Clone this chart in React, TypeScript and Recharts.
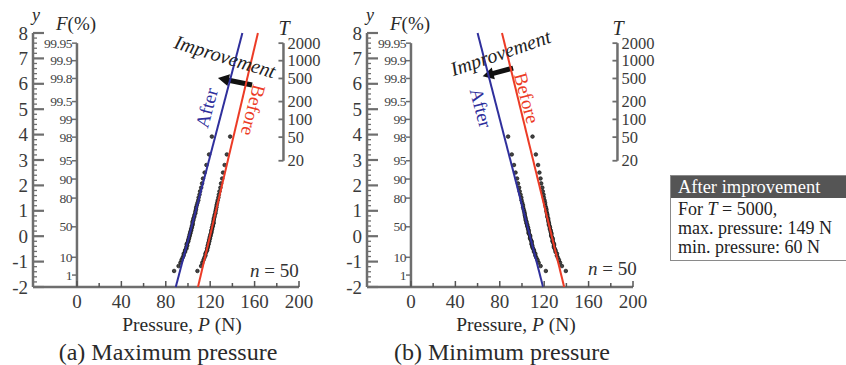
import React from "react"
import { ScatterChart, Scatter, XAxis, YAxis, ReferenceLine, ReferenceDot } from "recharts"

// reduced variate y of the 50 plotted ranks (Gumbel paper)
const plotY = [
  -1.369, -1.175, -1.041, -0.934, -0.843, -0.761, -0.686, -0.616, -0.551, -0.488,
  -0.428, -0.369, -0.313, -0.257, -0.202, -0.148, -0.094, -0.041, 0.013, 0.066,
  0.12, 0.173, 0.228, 0.283, 0.338, 0.395, 0.452, 0.511, 0.572, 0.634,
  0.698, 0.763, 0.832, 0.903, 0.977, 1.055, 1.137, 1.224, 1.316, 1.415,
  1.522, 1.639, 1.768, 1.913, 2.078, 2.271, 2.505, 2.803, 3.219, 3.922,
]

// pressures (N)
const maxAfterP = [
  87.5, 91.5, 93.2, 94.2, 95.2, 96.1, 96.2, 97.4, 97.4, 98.6,
  98.5, 99.3, 98.8, 99.6, 100.3, 100.2, 100.9, 100.9, 101.6, 101.5,
  102.2, 102.1, 102.9, 102.8, 103.5, 103.5, 104.2, 104.2, 104.1, 104.9,
  104.9, 105.7, 105.8, 106.6, 106.7, 107.2, 107.4, 108.0, 108.6, 109.3,
  109.6, 110.4, 110.9, 111.9, 112.7, 113.5, 115.0, 116.6, 119.0, 121.5,
]
const maxBeforeP = [
  108.5, 111.8, 112.9, 114.0, 114.8, 115.7, 115.7, 116.5, 117.3, 117.2,
  118.0, 117.8, 118.6, 118.4, 119.2, 119.0, 119.8, 119.6, 120.4, 120.2,
  120.9, 121.2, 121.0, 121.8, 121.6, 122.4, 122.2, 123.1, 122.9, 123.2,
  123.3, 123.9, 124.0, 124.7, 124.8, 125.2, 125.6, 125.8, 126.3, 126.8,
  127.4, 127.8, 128.4, 129.2, 129.8, 130.8, 131.6, 133.0, 135.0, 138.0,
]
const minAfterP = [
  121.5, 116.8, 115.0, 114.0, 112.9, 112.0, 112.0, 110.8, 110.8, 110.0,
  109.3, 109.3, 108.6, 108.7, 108.7, 108.0, 107.3, 107.3, 107.4, 106.7,
  106.0, 106.0, 106.1, 105.4, 105.5, 104.7, 104.8, 104.0, 104.1, 103.3,
  103.3, 102.9, 102.5, 102.4, 102.0, 101.5, 101.0, 100.9, 100.2, 99.6,
  99.4, 98.7, 97.9, 97.4, 96.4, 95.6, 94.2, 92.8, 90.8, 87.5,
]
const minBeforeP = [
  139.5, 136.0, 134.3, 133.3, 132.3, 131.4, 131.5, 130.2, 130.2, 129.5,
  128.7, 128.8, 128.9, 128.2, 127.5, 127.6, 127.7, 127.0, 126.3, 126.4,
  126.5, 125.8, 125.9, 125.1, 125.2, 124.9, 124.2, 124.3, 123.9, 123.6,
  123.6, 122.8, 122.9, 122.5, 122.0, 122.0, 121.5, 120.9, 120.8, 120.3,
  119.7, 119.4, 118.7, 118.3, 117.3, 116.7, 115.7, 114.5, 112.5, 109.5,
]

// fitted lines: pressure at y = -2 and at y = 8
const fitY = [-2, 8]
const maxAfterFitP = [89, 149]
const maxBeforeFitP = [109, 163]
const minAfterFitP = [119, 60]
const minBeforeFitP = [138, 82]

const yMajor = [-2, -1, 0, 1, 2, 3, 4, 5, 6, 7, 8]
const xTicks = [0, 20, 40, 60, 80, 100, 120, 140, 160, 180, 200]
const fLabels = ["99.95", "99.9", "99.8", "99.5", "99", "98", "95", "90", "80", "50", "10", "1"]
const fValues = [7.6, 6.91, 6.21, 5.3, 4.6, 3.9, 2.97, 2.25, 1.5, 0.37, -0.83, -1.53]
const tLabels = ["2000", "1000", "500", "200", "100", "50", "20"]
const tValues = [7.6, 6.91, 6.21, 5.3, 4.6, 3.9, 2.97]

const SERIF = '"Liberation Serif", "Times New Roman", serif'
const AXIS = "#6e6e6e"
const BLUE = "#2f2f9c"
const RED = "#ec3b26"

const yTicks = yMajor.flatMap((v, i) =>
  i < yMajor.length - 1 ? [v, v + 0.2, v + 0.4, v + 0.6, v + 0.8] : [v]
)
const toPoints = (ps: number[], ys: number[]) => ps.map((p, i) => ({ p, y: ys[i] }))
const fData = fLabels.map((label, i) => ({ p: 0, y: fValues[i], label }))
const T_AXIS_P = 186
const tData = tLabels.map((label, i) => ({ p: T_AXIS_P, y: tValues[i], label }))

function YTick(props: any) {
  const { x, y, payload } = props
  const v = payload.value
  const major = Math.abs(v - Math.round(v)) < 1e-6
  return (
    <g>
      <line x1={x} x2={x + (major ? 11 : 4)} y1={y} y2={y} stroke={AXIS} strokeWidth={major ? 2.2 : 1.3} />
      {major && (
        <text x={x - 5} y={y} dy={6.5} textAnchor="end" fontSize={19} fill="#3a3a3a" fontFamily={SERIF}>
          {Math.round(v)}
        </text>
      )}
    </g>
  )
}

function XTick(props: any) {
  const { x, y, payload } = props
  const v = payload.value
  const major = v % 40 === 0
  return (
    <g>
      <line x1={x} x2={x} y1={y} y2={y - (major ? 6 : 4)} stroke="#555" strokeWidth={1.5} />
      {major && (
        <text x={x} y={y + 21} textAnchor="middle" fontSize={19} fill="#3a3a3a" fontFamily={SERIF}>
          {v}
        </text>
      )}
    </g>
  )
}

const FTick = (props: any) => {
  const { cx, cy, payload } = props
  return (
    <g>
      <line x1={cx - 5} x2={cx} y1={cy} y2={cy} stroke={AXIS} strokeWidth={1.5} />
      <text x={cx - 5} y={cy} dy={4.5} textAnchor="end" fontSize={13.5} letterSpacing={-0.5} fill="#444" fontFamily={SERIF}>
        {payload.label}
      </text>
    </g>
  )
}

const TTick = (props: any) => {
  const { cx, cy, payload } = props
  return (
    <g>
      <line x1={cx - 5} x2={cx} y1={cy} y2={cy} stroke={AXIS} strokeWidth={1.8} />
      <text x={cx + 4} y={cy} dy={5.5} textAnchor="start" fontSize={16.5} fill="#3a3a3a" fontFamily={SERIF}>
        {payload.label}
      </text>
    </g>
  )
}

const Dot = (props: any) => (
  <circle cx={props.cx} cy={props.cy} r={1.8} fill="#444" stroke="#111" strokeWidth={0.7} />
)
const NoDot = () => <g />

const Arrow = (props: any) => {
  const { x1, y1, x2, y2 } = props
  const dx = x2 - x1
  const dy = y2 - y1
  const len = Math.sqrt(dx * dx + dy * dy)
  const ux = dx / len
  const uy = dy / len
  const nx = -uy
  const ny = ux
  const hl = 11
  const bx = x2 - ux * hl
  const by = y2 - uy * hl
  const pts = [
    [x1 + nx * 2.5, y1 + ny * 2.5],
    [bx + nx * 2.5, by + ny * 2.5],
    [bx + nx * 6, by + ny * 6],
    [x2, y2],
    [bx - nx * 6, by - ny * 6],
    [bx - nx * 2.5, by - ny * 2.5],
    [x1 - nx * 2.5, y1 - ny * 2.5],
  ]
  return <polygon points={pts.map((q) => q.join(",")).join(" ")} fill="#111" />
}

const rotatedText = (text: string, angle: number, color: string, size: number, italic: boolean) => (props: any) => (
  <text
    x={props.cx}
    y={props.cy}
    transform={`rotate(${angle} ${props.cx} ${props.cy})`}
    textAnchor="middle"
    dy={size * 0.33}
    fontSize={size}
    fontStyle={italic ? "italic" : "normal"}
    fill={color}
    fontFamily={SERIF}
  >
    {text}
  </text>
)

const NLabel = (props: any) => (
  <text x={props.cx} y={props.cy} fontSize={19} fill="#333" fontFamily={SERIF}>
    <tspan fontStyle="italic">n</tspan> = 50
  </text>
)

type Note = { p: number; y: number }
type PanelProps = {
  left: number
  title: string
  afterP: number[]
  beforeP: number[]
  afterFit: number[]
  beforeFit: number[]
  arrow: [Note, Note]
  improve: Note & { angle: number }
  afterLbl: Note & { angle: number }
  beforeLbl: Note & { angle: number }
  nLbl: Note
}

function Panel(props: PanelProps) {
  const { left } = props
  return (
    <div style={{ position: "absolute", left, top: 0, width: 345, height: 365 }}>
      <ScatterChart width={345} height={345} margin={{ top: 33, right: 46, bottom: 28, left: 3 }}>
        <XAxis
          type="number"
          dataKey="p"
          domain={[-39.6, 200]}
          ticks={xTicks}
          interval={0}
          tickSize={0}
          tickMargin={0}
          height={30}
          tick={(p: any) => <XTick {...p} />}
          axisLine={{ stroke: AXIS, strokeWidth: 2.5 }}
          tickLine={false}
        />
        <YAxis
          type="number"
          dataKey="y"
          domain={[-2, 8]}
          ticks={yTicks}
          interval={0}
          tickSize={0}
          tickMargin={0}
          width={30}
          tick={(p: any) => <YTick {...p} />}
          axisLine={{ stroke: AXIS, strokeWidth: 2.5 }}
          tickLine={false}
        />
        <ReferenceLine segment={[{ x: 0, y: -2 }, { x: 0, y: fValues[0] }]} stroke={AXIS} strokeWidth={2.5} />
        <ReferenceLine
          segment={[{ x: T_AXIS_P, y: tValues[tValues.length - 1] }, { x: T_AXIS_P, y: tValues[0] }]}
          stroke={AXIS}
          strokeWidth={2.5}
        />
        <Scatter data={fData} shape={FTick} isAnimationActive={false} />
        <Scatter data={tData} shape={TTick} isAnimationActive={false} />
        <Scatter data={toPoints(props.afterP, plotY)} shape={Dot} isAnimationActive={false} />
        <Scatter data={toPoints(props.beforeP, plotY)} shape={Dot} isAnimationActive={false} />
        <Scatter
          data={toPoints(props.afterFit, fitY)}
          line={{ stroke: BLUE, strokeWidth: 2 }}
          shape={NoDot}
          isAnimationActive={false}
        />
        <Scatter
          data={toPoints(props.beforeFit, fitY)}
          line={{ stroke: RED, strokeWidth: 2 }}
          shape={NoDot}
          isAnimationActive={false}
        />
        <ReferenceLine
          segment={[
            { x: props.arrow[0].p, y: props.arrow[0].y },
            { x: props.arrow[1].p, y: props.arrow[1].y },
          ]}
          shape={Arrow}
        />
        <ReferenceDot
          x={props.improve.p}
          y={props.improve.y}
          shape={rotatedText("Improvement", props.improve.angle, "#222", 20, true)}
        />
        <ReferenceDot
          x={props.afterLbl.p}
          y={props.afterLbl.y}
          shape={rotatedText("After", props.afterLbl.angle, BLUE, 19, false)}
        />
        <ReferenceDot
          x={props.beforeLbl.p}
          y={props.beforeLbl.y}
          shape={rotatedText("Before", props.beforeLbl.angle, RED, 19, false)}
        />
        <ReferenceDot x={props.nLbl.p} y={props.nLbl.y} shape={NLabel} />
      </ScatterChart>
      <div style={lbl(36, 15, 18)}>
        <i>y</i>
      </div>
      <div style={lbl(76, 23, 19)}>
        <i>F</i>(%)
      </div>
      <div style={lbl(284, 28, 20)}>
        <i>T</i>
      </div>
      <div style={lbl(182, 325, 19.5)}>
        Pressure, <i>P</i> (N)
      </div>
      <div style={lbl(168, 352, 24)}>{props.title}</div>
    </div>
  )
}

const lbl = (cx: number, cy: number, size: number): React.CSSProperties => ({
  position: "absolute",
  left: cx,
  top: cy,
  transform: "translate(-50%, -50%)",
  fontSize: size,
  fontFamily: SERIF,
  color: "#2a2a2a",
  whiteSpace: "nowrap",
  lineHeight: 1,
})

export default function App() {
  return (
    <div
      style={{
        position: "absolute",
        left: 0,
        top: 0,
        width: 846,
        height: 365,
        overflow: "hidden",
        background: "#fff",
        fontFamily: SERIF,
      }}
    >
      <Panel
        left={0}
        title="(a) Maximum pressure"
        afterP={maxAfterP}
        beforeP={maxBeforeP}
        afterFit={maxAfterFitP}
        beforeFit={maxBeforeFitP}
        arrow={[{ p: 157.7, y: 5.95 }, { p: 127, y: 6.23 }]}
        improve={{ p: 133.3, y: 7.06, angle: 17 }}
        afterLbl={{ p: 117, y: 5.05, angle: -75 }}
        beforeLbl={{ p: 158.6, y: 4.96, angle: 104 }}
        nLbl={{ p: 155.9, y: -1.6 }}
      />
      <Panel
        left={334}
        title="(b) Minimum pressure"
        afterP={minAfterP}
        beforeP={minBeforeP}
        afterFit={minAfterFitP}
        beforeFit={minBeforeFitP}
        arrow={[{ p: 92, y: 6.62 }, { p: 64.6, y: 6.3 }]}
        improve={{ p: 80.7, y: 7.21, angle: -19 }}
        afterLbl={{ p: 62.8, y: 5.05, angle: 75 }}
        beforeLbl={{ p: 104, y: 5.44, angle: 75 }}
        nLbl={{ p: 159.5, y: -1.53 }}
      />
      <div
        style={{
          position: "absolute",
          left: 670,
          top: 175,
          width: 200,
          border: "1px solid #8a8a8a",
          background: "#fff",
          fontFamily: SERIF,
        }}
      >
        <div style={{ background: "#555", color: "#fff", fontSize: 18.5, height: 22, lineHeight: "22px", paddingLeft: 7 }}>
          After improvement
        </div>
        <div style={{ fontSize: 18, lineHeight: "19px", padding: "2px 7px 3px", color: "#222", whiteSpace: "nowrap" }}>
          For <i>T</i> = 5000,
          <br />
          max. pressure: 149 N
          <br />
          min. pressure: 60 N
        </div>
      </div>
    </div>
  )
}
